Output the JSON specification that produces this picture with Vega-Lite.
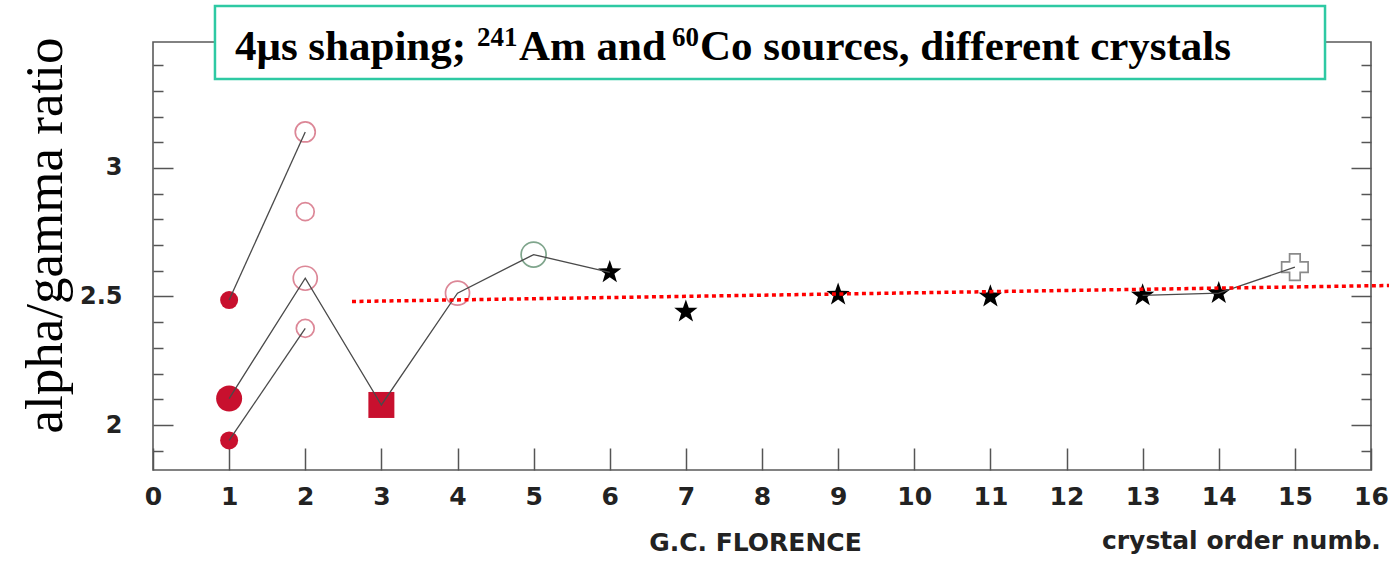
{
  "$schema": "https://vega.github.io/schema/vega-lite/v6.json",
  "width": 1218,
  "height": 428,
  "autosize": {"type": "none"},
  "padding": {"left": 153, "top": 42, "right": 18, "bottom": 92},
  "background": "white",
  "config": {
    "view": {"stroke": "#5a5a5a", "strokeWidth": 1.6},
    "font": "DejaVu Sans"
  },
  "datasets": {
    "crystals": [
      {"crystal": 1, "ratio": 2.486, "marker": "filled", "trace": "A"},
      {"crystal": 2, "ratio": 3.14, "marker": "open", "trace": "A"},
      {"crystal": 1, "ratio": 2.103, "marker": "filled large", "trace": "B"},
      {"crystal": 2, "ratio": 2.571, "marker": "open large", "trace": "B"},
      {"crystal": 3, "ratio": 2.078, "marker": "square", "trace": "B"},
      {"crystal": 4, "ratio": 2.513, "marker": "open large", "trace": "B"},
      {"crystal": 5, "ratio": 2.663, "marker": "green", "trace": "B"},
      {"crystal": 6, "ratio": 2.594, "marker": "star", "trace": "B"},
      {"crystal": 1, "ratio": 1.94, "marker": "filled", "trace": "C"},
      {"crystal": 2, "ratio": 2.376, "marker": "open small", "trace": "C"},
      {"crystal": 2, "ratio": 2.83, "marker": "open small", "trace": null},
      {"crystal": 7, "ratio": 2.441, "marker": "star", "trace": null},
      {"crystal": 9, "ratio": 2.507, "marker": "star", "trace": null},
      {"crystal": 11, "ratio": 2.5, "marker": "star", "trace": null},
      {"crystal": 13, "ratio": 2.504, "marker": "star", "trace": "D"},
      {"crystal": 14, "ratio": 2.513, "marker": "star", "trace": "D"},
      {"crystal": 15, "ratio": 2.614, "marker": "cross", "trace": "D"}
    ],
    "trend": [
      {"crystal": 2.614, "ratio": 2.4805},
      {"crystal": 16.237, "ratio": 2.5428}
    ],
    "banner": [
      {"piece": "4μs shaping; ", "pos": 1.0772, "level": 3.4202, "kind": "main"},
      {"piece": "241", "pos": 4.2562, "level": 3.4747, "kind": "sup"},
      {"piece": "Am and ", "pos": 4.8079, "level": 3.4202, "kind": "main"},
      {"piece": "60", "pos": 6.8177, "level": 3.4747, "kind": "sup"},
      {"piece": "Co sources, different crystals", "pos": 7.1856, "level": 3.4202, "kind": "main"}
    ],
    "one": [{"note": "crystal order numb."}]
  },
  "layer": [
    {
      "layer": [
        {
          "data": {"name": "crystals"},
          "mark": {"type": "point", "filled": true, "opacity": 1, "strokeWidth": 0},
          "transform": [{"filter": "indexof(['filled','filled large','square','star'], datum.marker) >= 0"}],
          "encoding": {
            "x": {
              "field": "crystal", "type": "quantitative",
              "scale": {"domain": [0, 16], "nice": false, "zero": false},
              "axis": {
                "values": [0,1,2,3,4,5,6,7,8,9,10,11,12,13,14,15,16],
                "tickCount": 40,
                "format": "d",
                "tickSize": -22, "tickColor": "#555", "tickWidth": 1.5,
                "domain": false, "grid": false,
                "labelFont": "DejaVu Sans", "labelFontWeight": "bold", "labelFontSize": 25,
                "labelColor": "#222", "labelPadding": 36, "labelFlush": false, "labelOverlap": false,
                "labelBound": false,
                "title": "G.C. FLORENCE",
                "titleFont": "DejaVu Sans", "titleFontWeight": "bold", "titleFontSize": 25,
                "titleColor": "#222", "titleX": 602, "titleY": 80,
                "titleAlign": "center", "titleBaseline": "alphabetic"
              }
            },
            "y": {
              "field": "ratio", "type": "quantitative",
              "scale": {"domain": [1.825, 3.49], "nice": false, "zero": false},
              "axis": {
                "values": [1.9,2,2.1,2.2,2.3,2.4,2.5,2.6,2.7,2.8,2.9,3,3.1,3.2,3.3,3.4],
                "tickCount": 40,
                "tickSize": {"condition": {"test": "abs(datum.value * 2 - round(datum.value * 2)) < 0.01", "value": -20}, "value": -10},
                "tickColor": "#555", "tickWidth": 1.5,
                "domain": false, "grid": false,
                "labelExpr": "abs(datum.value - 2) < 0.01 ? '2' : abs(datum.value - 2.5) < 0.01 ? '2.5' : abs(datum.value - 3) < 0.01 ? '3' : ''",
                "labelFont": "DejaVu Sans", "labelFontWeight": "bold", "labelFontSize": 24,
                "labelColor": "#222", "labelPadding": 51, "labelOverlap": false, "labelBound": false,
                "title": "alpha/gamma ratio",
                "titleFont": "Liberation Serif", "titleFontWeight": "normal", "titleFontSize": 53,
                "titleColor": "#000", "titleAngle": 270, "titleAlign": "center",
                "titleBaseline": "alphabetic", "titleX": -92, "titleY": 193
              }
            },
            "shape": {
              "field": "marker", "type": "nominal", "legend": null,
              "scale": {
                "domain": ["filled","filled large","square","star","open","open small","open large","green","cross"],
                "range": ["circle","circle","square","M0,-1L0.235,-0.324L0.951,-0.309L0.38,0.124L0.588,0.809L0,0.4L-0.588,0.809L-0.38,0.124L-0.951,-0.309L-0.235,-0.324Z","circle","circle","circle","circle","cross"]
              }
            },
            "size": {
              "field": "marker", "type": "nominal", "legend": null,
              "scale": {
                "type": "ordinal",
                "domain": ["filled","filled large","square","star","open","open small","open large","green","cross"],
                "range": [324, 676, 676, 600, 400, 320, 576, 625, 700]
              }
            },
            "color": {
              "field": "marker", "type": "nominal", "legend": null,
              "scale": {
                "domain": ["filled","filled large","square","star","open","open small","open large","green","cross"],
                "range": ["#c8102e","#c8102e","#c8102e","#000000","#dc8797","#dc8797","#dc8797","#7fa58c","#8a8a8a"]
              }
            }
          }
        },
        {
          "data": {"name": "crystals"},
          "mark": {"type": "point", "filled": false, "opacity": 1, "strokeWidth": 1.7},
          "transform": [{"filter": "indexof(['open','open small','open large','green','cross'], datum.marker) >= 0"}],
          "encoding": {
            "x": {"field": "crystal", "type": "quantitative"},
            "y": {"field": "ratio", "type": "quantitative"},
            "shape": {
              "field": "marker", "type": "nominal", "legend": null,
              "scale": {
                "domain": ["filled","filled large","square","star","open","open small","open large","green","cross"],
                "range": ["circle","circle","square","M0,-1L0.235,-0.324L0.951,-0.309L0.38,0.124L0.588,0.809L0,0.4L-0.588,0.809L-0.38,0.124L-0.951,-0.309L-0.235,-0.324Z","circle","circle","circle","circle","cross"]
              }
            },
            "size": {
              "field": "marker", "type": "nominal", "legend": null,
              "scale": {
                "type": "ordinal",
                "domain": ["filled","filled large","square","star","open","open small","open large","green","cross"],
                "range": [324, 676, 676, 600, 400, 320, 576, 625, 700]
              }
            },
            "color": {
              "field": "marker", "type": "nominal", "legend": null,
              "scale": {
                "domain": ["filled","filled large","square","star","open","open small","open large","green","cross"],
                "range": ["#c8102e","#c8102e","#c8102e","#000000","#dc8797","#dc8797","#dc8797","#7fa58c","#8a8a8a"]
              }
            }
          }
        },
        {
          "data": {"name": "crystals"},
          "transform": [{"filter": "isValid(datum.trace)"}],
          "mark": {"type": "line", "color": "#4a4a4a", "strokeWidth": 1.3},
          "encoding": {
            "x": {"field": "crystal", "type": "quantitative"},
            "y": {"field": "ratio", "type": "quantitative"},
            "detail": {"field": "trace", "type": "nominal"}
          }
        },
        {
          "data": {"name": "trend"},
          "mark": {"type": "line", "color": "#ff0000", "strokeWidth": 3.5, "strokeDash": [4, 3.5], "clip": false},
          "encoding": {
            "x": {"field": "crystal", "type": "quantitative"},
            "y": {"field": "ratio", "type": "quantitative"}
          }
        },
        {
          "data": {"name": "one"},
          "mark": {"type": "rect", "fill": "white", "stroke": "#2ec9a3", "strokeWidth": 2.5, "clip": false},
          "encoding": {
            "x": {"datum": 0.814, "type": "quantitative"},
            "x2": {"datum": 15.396},
            "y": {"datum": 3.346, "type": "quantitative"},
            "y2": {"datum": 3.63}
          }
        },
        {
          "data": {"name": "banner"},
          "transform": [{"filter": "datum.kind === 'main'"}],
          "mark": {"type": "text", "align": "left", "baseline": "alphabetic", "font": "Liberation Serif", "fontWeight": "bold", "fontSize": 43, "color": "#000", "clip": false},
          "encoding": {
            "x": {"field": "pos", "type": "quantitative"},
            "y": {"field": "level", "type": "quantitative"},
            "text": {"field": "piece"}
          }
        },
        {
          "data": {"name": "banner"},
          "transform": [{"filter": "datum.kind === 'sup'"}],
          "mark": {"type": "text", "align": "left", "baseline": "alphabetic", "font": "Liberation Serif", "fontWeight": "bold", "fontSize": 27, "color": "#000", "clip": false},
          "encoding": {
            "x": {"field": "pos", "type": "quantitative"},
            "y": {"field": "level", "type": "quantitative"},
            "text": {"field": "piece"}
          }
        },
        {
          "data": {"name": "one"},
          "mark": {"type": "text", "align": "left", "baseline": "alphabetic", "font": "DejaVu Sans", "fontWeight": "bold", "fontSize": 25, "color": "#222", "clip": false},
          "encoding": {
            "x": {"datum": 12.466, "type": "quantitative"},
            "y": {"datum": 1.5175, "type": "quantitative"},
            "text": {"field": "note"}
          }
        }
      ]
    },
    {
      "data": {"name": "one"},
      "mark": {"type": "point", "opacity": 0},
      "encoding": {
        "x": {"datum": 8, "type": "quantitative"},
        "y": {
          "datum": 2.5, "type": "quantitative",
          "scale": {"domain": [1.825, 3.49], "nice": false, "zero": false},
          "axis": {
            "orient": "right",
            "values": [1.9,2,2.1,2.2,2.3,2.4,2.5,2.6,2.7,2.8,2.9,3,3.1,3.2,3.3,3.4],
            "tickCount": 40,
            "tickSize": {"condition": {"test": "abs(datum.value * 2 - round(datum.value * 2)) < 0.01", "value": -20}, "value": -10},
            "tickColor": "#555", "tickWidth": 1.5,
            "domain": false, "grid": false, "labels": false, "title": null
          }
        }
      }
    }
  ],
  "resolve": {"scale": {"y": "independent"}}
}
